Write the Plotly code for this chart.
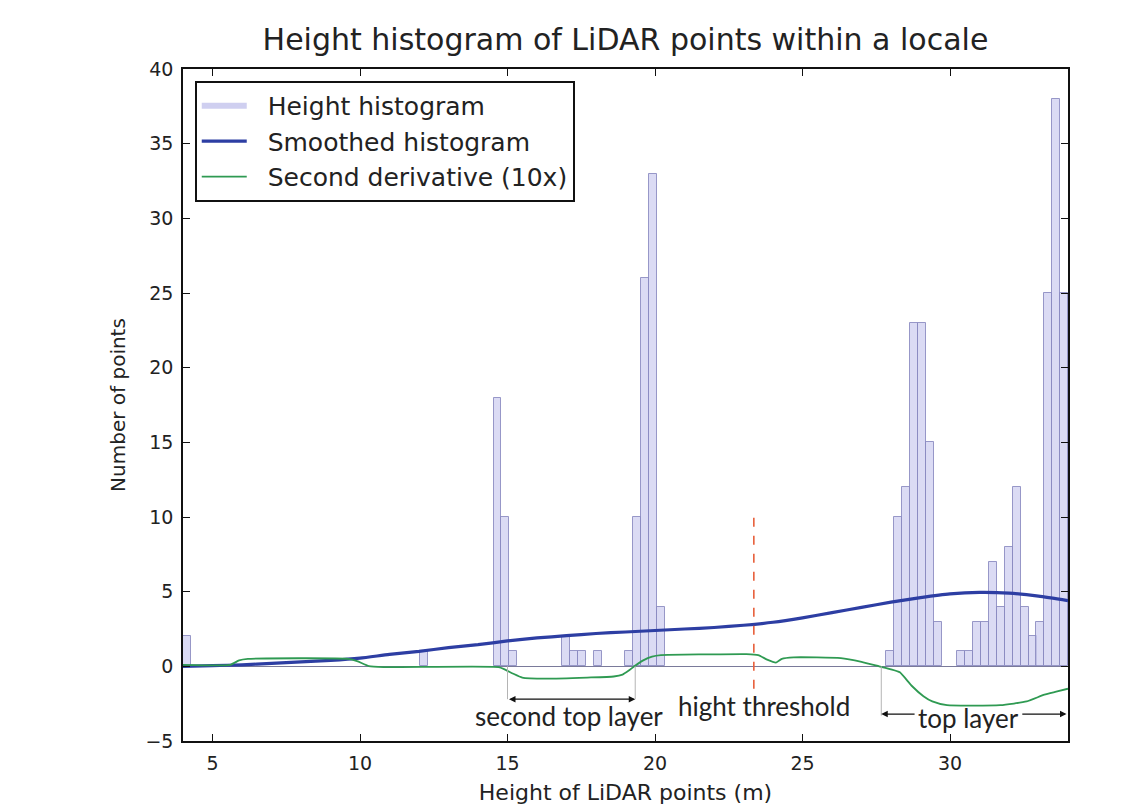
import plotly.graph_objects as go

# ---------------- data ----------------
hist_bin_centers = [4.13, 12.17, 14.66, 14.93, 15.20, 16.99, 17.26, 17.53, 18.06,
                    19.13, 19.40, 19.67, 19.94, 20.21,
                    27.97, 28.24, 28.51, 28.78, 29.05, 29.31, 29.58,
                    30.38, 30.65, 30.92, 31.19, 31.46, 31.72, 31.99, 32.26, 32.53,
                    32.80, 33.06, 33.33, 33.60, 33.87]
hist_counts = [2, 1, 18, 10, 1, 2, 1, 1, 1,
               1, 10, 26, 33, 4,
               1, 10, 12, 23, 23, 15, 3,
               1, 1, 3, 3, 7, 4, 8, 12, 4,
               2, 3, 25, 38, 25]
bin_width = 0.268

smooth_x = [4.0, 5.0, 6.0, 7.0, 8.0, 9.0, 10.0, 11.0, 12.0, 13.0, 14.0, 15.0, 16.0,
            17.0, 18.0, 19.0, 20.0, 21.0, 22.0, 23.0, 24.0, 25.0, 26.0, 27.0, 28.0,
            29.0, 30.0, 31.0, 32.0, 33.0, 34.0]
smooth_y = [0.0, 0.05, 0.1, 0.2, 0.3, 0.4, 0.55, 0.8, 1.0, 1.25, 1.45, 1.7, 1.9,
            2.05, 2.2, 2.3, 2.4, 2.5, 2.6, 2.75, 2.95, 3.25, 3.6, 3.95, 4.3,
            4.6, 4.85, 4.95, 4.9, 4.7, 4.4]

deriv_x = [4.0, 5.6, 5.9, 6.2, 9.6, 9.9, 10.3, 10.8, 14.7, 14.9, 15.2, 15.5, 16.3,
           17.7, 18.6, 18.9, 19.1, 19.3, 19.6, 19.9, 20.2, 21.7, 23.1, 23.5, 23.8,
           24.1, 24.3, 24.7, 26.3, 27.0, 27.6, 28.0, 28.3, 28.7, 29.1, 29.4, 29.9,
           31.7, 32.6, 33.2, 33.6, 34.0]
deriv_y = [0.1, 0.1, 0.4, 0.5, 0.5, 0.35, 0.02, -0.05, -0.05, -0.2, -0.5, -0.75, -0.82,
           -0.75, -0.68, -0.55, -0.3, 0.0, 0.4, 0.65, 0.75, 0.8, 0.82, 0.75, 0.45,
           0.25, 0.5, 0.6, 0.55, 0.3, 0.0, -0.2, -0.4, -1.3, -2.0, -2.35, -2.6,
           -2.6, -2.35, -1.9, -1.7, -1.5]

x_ticks = [5, 10, 15, 20, 25, 30]
y_ticks = [-5, 0, 5, 10, 15, 20, 25, 30, 35, 40]

threshold_x = 23.35
threshold_span = [-1.5, 10]
second_layer = [15.0, 19.33]
top_layer = [27.67, 33.95]
top_layer_text_gap = [28.85, 32.4]

# ---------------- figure ----------------
pad = "\u00a0\u00a0"
fig = go.Figure()
fig.add_trace(go.Bar(x=hist_bin_centers, y=hist_counts, width=bin_width,
                     marker=dict(color="rgba(205,205,240,0.72)",
                                 line=dict(color="rgba(135,135,190,0.85)", width=1)),
                     showlegend=False, name="Height histogram"))
fig.add_trace(go.Scatter(x=[None], y=[None], mode="lines", name=pad + "Height histogram",
                         line=dict(color="#cfcff0", width=6)))
fig.add_trace(go.Scatter(x=smooth_x, y=smooth_y, mode="lines",
                         name=pad + "Smoothed histogram",
                         line=dict(color="#2d3ea3", width=3.2, shape="spline", smoothing=0.6)))
fig.add_trace(go.Scatter(x=deriv_x, y=deriv_y, mode="lines",
                         name=pad + "Second derivative (10x)",
                         line=dict(color="#2f9a52", width=1.8, shape="spline", smoothing=0.5)))

gray = dict(color="#b4b4b4", width=1)
shapes = [
    dict(type="line", xref="x", yref="y", x0=threshold_x, x1=threshold_x,
         y0=threshold_span[0], y1=threshold_span[1],
         line=dict(color="#e8603c", width=1.6, dash="dash")),
    dict(type="line", xref="x", yref="y", x0=second_layer[0], x1=second_layer[0],
         y0=0, y1=-2.2, line=gray),
    dict(type="line", xref="x", yref="y", x0=second_layer[1], x1=second_layer[1],
         y0=0, y1=-2.2, line=gray),
    dict(type="line", xref="x", yref="y", x0=top_layer[0], x1=top_layer[0],
         y0=0, y1=-3.3, line=gray),
]

ann_font = dict(family="Lato", size=26, color="#222")
arrow_common = dict(xref="x", yref="y", axref="x", ayref="y", text="", showarrow=True,
                    arrowhead=2, arrowwidth=1.3, arrowsize=1, arrowcolor="#111")
annotations = [
    dict(x=second_layer[1], y=-2.2, ax=second_layer[0], ay=-2.2, arrowside="end+start",
         **arrow_common),
    dict(x=top_layer[0], y=-3.2, ax=top_layer_text_gap[0], ay=-3.2, arrowside="end",
         **arrow_common),
    dict(x=top_layer[1], y=-3.2, ax=top_layer_text_gap[1], ay=-3.2, arrowside="end",
         **arrow_common),
    dict(x=17.1, y=-3.35, xref="x", yref="y", text="second top layer", showarrow=False,
         font=ann_font),
    dict(x=23.7, y=-2.65, xref="x", yref="y", text="hight threshold", showarrow=False,
         font=ann_font),
    dict(x=30.63, y=-3.45, xref="x", yref="y", text="top layer", showarrow=False,
         font=ann_font),
]

axis_common = dict(showline=True, linecolor="#111", linewidth=1.5, mirror="ticks",
                   ticks="inside", ticklen=7, tickwidth=1.2, tickcolor="#111",
                   showgrid=False, ticklabelstandoff=4,
                   tickfont=dict(family="DejaVu Sans", size=19, color="#222"))

fig.update_layout(
    width=1143, height=805,
    margin=dict(l=175, r=83, t=61, b=67),
    paper_bgcolor="white", plot_bgcolor="white",
    bargap=0,
    title=dict(text="Height histogram of LiDAR points within a locale",
               font=dict(family="DejaVu Sans", size=30, color="#222"),
               x=0.5, xref="paper", xanchor="center", y=1 - 31 / 805, yanchor="middle"),
    xaxis=dict(range=[4.0, 34.0], tickvals=x_ticks, zeroline=False,
               title=dict(text="Height of LiDAR points (m)", standoff=12,
                          font=dict(family="DejaVu Sans", size=22, color="#222")),
               **axis_common),
    yaxis=dict(range=[-5, 40], tickvals=y_ticks, zeroline=True, zerolinecolor="#7a7a9a",
               zerolinewidth=1,
               title=dict(text="Number of points", standoff=14,
                          font=dict(family="DejaVu Sans", size=20, color="#222")),
               **axis_common),
    legend=dict(x=0.0135, y=0.982, xanchor="left", yanchor="top",
                bgcolor="white", bordercolor="#111", borderwidth=1.8,
                font=dict(family="DejaVu Sans", size=25, color="#222"),
                itemwidth=45, traceorder="normal"),
    shapes=shapes,
    annotations=annotations,
)

fig.write_html("out.html")
